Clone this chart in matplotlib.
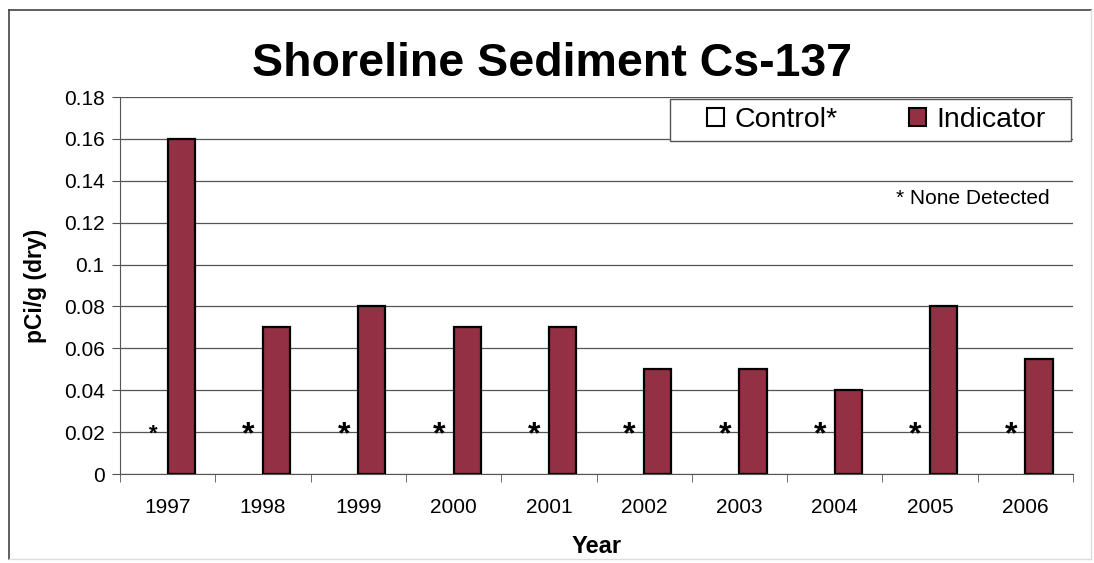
import matplotlib
matplotlib.use("Agg")
import matplotlib.pyplot as plt
import matplotlib.patches as mpatches
from matplotlib.lines import Line2D
import numpy as np

plt.rcParams["font.family"] = ["Liberation Sans", "DejaVu Sans"]

years = ["1997", "1998", "1999", "2000", "2001", "2002", "2003", "2004", "2005", "2006"]
control = [0, 0, 0, 0, 0, 0, 0, 0, 0, 0]
indicator = [0.16, 0.07, 0.08, 0.07, 0.07, 0.05, 0.05, 0.04, 0.08, 0.055]
none_detected_level = 0.02
yticks = [0, 0.02, 0.04, 0.06, 0.08, 0.1, 0.12, 0.14, 0.16, 0.18]
ytick_labels = ["0", "0.02", "0.04", "0.06", "0.08", "0.1", "0.12", "0.14", "0.16", "0.18"]

bar_color = "#933044"

fig = plt.figure(figsize=(10.94, 5.63), dpi=100)
W, H = 1094, 563
ax = fig.add_axes([120 / W, 1 - 474 / H, (1073 - 120) / W, (474 - 97) / H])

x = np.arange(len(years))
width = 0.285
# control values are all zero (none detected), so the bars have no visible outline
ax.bar(x - width / 2, control, width, color="white", edgecolor="none")
ax.bar(x + width / 2, indicator, width, color=bar_color, edgecolor="black", linewidth=1.6, zorder=3)

# asterisks for non-detected control samples
for i in x:
    size = 16 if i == 0 else 23
    ax.text(i - width / 2 - 0.01, none_detected_level, "*", ha="center", va="center_baseline",
            fontsize=size, fontweight="bold", zorder=4)

ax.set_xlim(-0.5, len(years) - 0.5)
ax.set_ylim(0, 0.18)
ax.set_yticks(yticks)
ax.set_yticklabels(ytick_labels, fontsize=15)
ax.set_xticks(x)
ax.set_xticklabels(years, fontsize=15)
ax.set_xticks(np.arange(len(years) + 1) - 0.5, minor=True)
ax.tick_params(axis="x", which="major", length=0, pad=17)
ax.tick_params(axis="x", which="minor", length=6, color="#555555")
ax.tick_params(axis="y", length=6, color="#555555", pad=5)
ax.yaxis.grid(True, color="#555555", linewidth=0.9)
ax.set_axisbelow(True)
for side in ["top", "right"]:
    ax.spines[side].set_visible(False)
ax.spines["left"].set_color("#555555")
ax.spines["bottom"].set_color("#555555")

ax.set_ylabel("pCi/g (dry)", fontsize=16.5, fontweight="bold", labelpad=12)
ax.set_xlabel("Year", fontsize=17, fontweight="bold", labelpad=13)

fig.text(552 / W, 1 - 64 / H, "Shoreline Sediment Cs-137", ha="center", va="center",
         fontsize=33.5, fontweight="bold")

# legend box drawn separately so its padding matches the original
fig.add_artist(mpatches.Rectangle((670 / W, 1 - 141 / H), (1071 - 670) / W, 42 / H,
                                  transform=fig.transFigure, facecolor="white",
                                  edgecolor="#555555", linewidth=1.0, zorder=5))
handles = [
    mpatches.Patch(facecolor="white", edgecolor="black", linewidth=1.5, label="Control*"),
    mpatches.Patch(facecolor=bar_color, edgecolor="black", linewidth=1.5, label="Indicator"),
]
leg = fig.legend(handles=handles, loc="center", bbox_to_anchor=(876 / W, 1 - 120 / H), ncol=2,
                 fontsize=20.5, frameon=False, handlelength=0.62, handleheight=0.62,
                 handletextpad=0.35, columnspacing=2.5, borderpad=0.0)
leg.set_zorder(6)

ax.text(1050 / W, 1 - 199 / H, "* None Detected", transform=fig.transFigure,
        ha="right", va="center", fontsize=15)

# figure border
fig.add_artist(Line2D([9 / W, 9 / W], [1 - 10 / H, 1 - 559 / H], color="#444444", lw=1.2))
fig.add_artist(Line2D([9 / W, 1091 / W], [1 - 10 / H, 1 - 10 / H], color="#444444", lw=1.2))
fig.add_artist(Line2D([1091 / W, 1091 / W], [1 - 10 / H, 1 - 559 / H], color="#dddddd", lw=1))
fig.add_artist(Line2D([9 / W, 1091 / W], [1 - 559 / H, 1 - 559 / H], color="#dddddd", lw=1))

fig.savefig("out.png", dpi=100)
